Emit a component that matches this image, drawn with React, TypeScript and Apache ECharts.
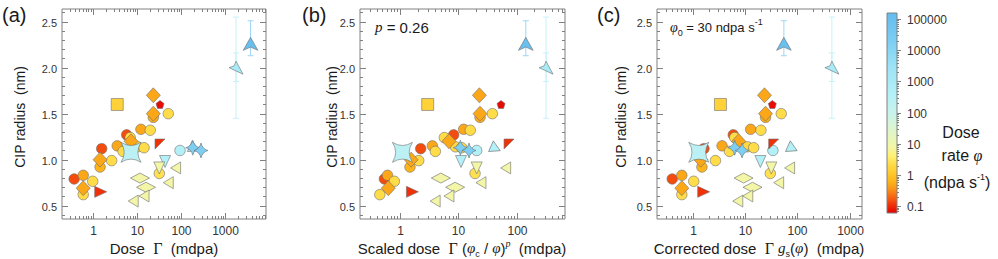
import React, { useEffect, useRef } from 'react';
import * as echarts from 'echarts';

const FONT = '"Liberation Sans", Arial, Helvetica, sans-serif';
const SERIF = '"Liberation Serif", "DejaVu Serif", serif';

// ---------- data ----------
const shapes = [
  'circle', 'circle', 'circle', 'circle', 'diamond', 'right', 'circle', 'circle', 'diamond', 'circle',
  'circle', 'circle', 'circle', 'circle', 'circle', 'circle', 'diamond', 'circle', 'circle', 'square',
  'circle', 'diamond', 'diamond', 'pent', 'circle', 'flag', 'circle', 'star', 'star', 'tilt',
  'down', 'down', 'circle', 'left', 'left', 'wide', 'wide', 'left', 'left', 'big',
  'bow', 'arrow',
];
// log10 of dose rate (ndpa/s)
const logRate = [
  -0.82, -0.3, 0.35, 0.35, -0.3, -0.95, -0.82, -0.2, -0.3, 0.35,
  -0.3, 0.35, 0.3, 0.35, -0.82, 0.35, -0.3, -0.3, 0.35, 0.2,
  -0.25, -0.3, -0.3, -1.15, 0.35, -0.95, 2.6, 4.3, 4.3, 2.6,
  2.6, 0.9, 0.4, 0.9, 0.9, 0.9, 0.9, 0.9, 0.9, 2.4,
  3.0, 5.0,
];
// CIP radius (nm)
const radius = [
  0.79, 0.83, 0.765, 0.62, 0.69, 0.65, 1.12, 0.92, 1.0, 0.99,
  1.15, 1.09, 1.14, 1.13, 1.27, 1.24, 1.2, 1.33, 1.32, 1.6,
  1.46, 1.5, 1.7, 1.6, 1.5, 1.17, 1.1, 1.13, 1.1, 1.12,
  0.98, 0.91, 0.85, 0.91, 0.75, 0.8, 0.7, 0.55, 0.605, 1.08,
  2.0, 2.33,
];
// (a) dose (mdpa)
const doseA = [
  0.38, 0.61, 1.0, 0.61, 0.61, 1.52, 1.6, 1.47, 1.47, 2.69,
  3.6, 4.9, 10.5, 14.6, 5.9, 7.1, 7.4, 12.4, 20.2, 3.6,
  23.7, 23.7, 23.7, 33.6, 51.8, 33.6, 95.5, 186, 286, 174,
  43.7, 32.4, 32.4, 75.9, 51.8, 11.8, 16.2, 8.3, 14.6, 7.4,
  1780, 3800,
];
// (b) scaled dose (mdpa)
const doseB = [
  0.54, 0.61, 0.8, 0.45, 0.63, 1.63, 2.26, 1.48, 1.55, 2.09,
  3.58, 4.03, 8.9, 11.4, 8.3, 5.75, 6.9, 12.3, 16.0, 2.98,
  23.5, 23.5, 22.9, 53.8, 38.2, 73.8, 20.6, 10.8, 15.2, 38.7,
  11.1, 20.6, 19.3, 64.6, 24.4, 5.0, 8.8, 4.0, 6.9, 1.1,
  318, 143,
];
// (c) corrected dose (mdpa)
const doseC = [
  0.4, 0.61, 1.03, 0.61, 0.61, 1.6, 1.62, 1.48, 1.41, 2.69,
  3.6, 5.0, 11.0, 14.5, 5.9, 6.3, 7.5, 12.7, 20.0, 3.35,
  24.5, 24.5, 23.4, 33.1, 49, 35.1, 33.9, 6.3, 8.7, 70.8,
  19.5, 31.6, 30.2, 70.8, 43.7, 9.3, 13.8, 7.2, 11.2, 1.29,
  457, 55,
];
// error bars: point index, low, high (nm)
const errPoint = [40, 40, 41];
const errLow = [1.45, 1.85, 2.13];
const errHigh = [2.55, 2.16, 2.51];

// tick labels
const xLabelsA = ['1', '10', '100', '1000'];
const xLabelsB = ['1', '10', '100'];
const xLabelsC = ['1', '10', '100', '1000'];
const yLabels = ['0.5', '1.0', '1.5', '2.0', '2.5'];
const cbLabels = ['0.1', '1', '10', '100', '1000', '10000', '100000'];

// ---------- colour scale ----------
const CB_MIN = -1.21;
const CB_MAX = 5.19;
const colorStops: [number, string][] = [
  [-1.21, '#e60000'],
  [-0.9, '#f23a0a'],
  [-0.75, '#f65c12'],
  [-0.4, '#fa9a18'],
  [-0.2, '#fcb418'],
  [0.1, '#ffcc30'],
  [0.35, '#ffdc48'],
  [0.6, '#fff070'],
  [0.9, '#f2f6a6'],
  [1.5, '#dcf5d0'],
  [2.0, '#c8f3ec'],
  [2.6, '#b4f0f8'],
  [3.5, '#9ce2f6'],
  [4.3, '#7ccef3'],
  [5.19, '#62bcee'],
];
function hexToRgb(h: string) {
  const n = parseInt(h.slice(1), 16);
  return [(n >> 16) & 255, (n >> 8) & 255, n & 255];
}
function rateColor(l: number, mixWhite = 0) {
  let c0 = colorStops[0], c1 = colorStops[colorStops.length - 1];
  if (l <= colorStops[0][0]) c1 = c0;
  else if (l >= c1[0]) c0 = c1;
  else {
    for (let i = 0; i < colorStops.length - 1; i++) {
      if (l >= colorStops[i][0] && l <= colorStops[i + 1][0]) { c0 = colorStops[i]; c1 = colorStops[i + 1]; break; }
    }
  }
  const t = c1[0] === c0[0] ? 0 : (l - c0[0]) / (c1[0] - c0[0]);
  const a = hexToRgb(c0[1]), b = hexToRgb(c1[1]);
  const rgb = a.map((v, i) => {
    const c = v + (b[i] - v) * t;
    return Math.round(c + (255 - c) * mixWhite);
  });
  return `rgb(${rgb[0]},${rgb[1]},${rgb[2]})`;
}

// ---------- symbols ----------
const SYM: Record<string, { symbol: string; size: number | number[]; rotate?: number; layer: number }> = {
  circle: { symbol: 'circle', size: 10.5, layer: 0 },
  square: { symbol: 'rect', size: 12, layer: 1 },
  diamond: { symbol: 'diamond', size: [14, 15], layer: 2 },
  wide: { symbol: 'diamond', size: [19, 10], layer: 2 },
  left: { symbol: 'path://M10,0L10,10L0,5Z', size: [10, 12], layer: 3 },
  right: { symbol: 'path://M0,0L10,5L0,10Z', size: [12, 11], layer: 3 },
  down: { symbol: 'path://M0,0L10,0L5,10Z', size: [11, 12], layer: 3 },
  flag: { symbol: 'path://M0,0L10,0L0,10Z', size: [10, 10], layer: 3 },
  pent: { symbol: 'path://M5,0L10,3.6L8.1,9.5L1.9,9.5L0,3.6Z', size: 8, layer: 3 },
  tilt: { symbol: 'path://M10,0L10,10L0,5Z', size: [10, 12], rotate: 35, layer: 3 },
  star: { symbol: 'path://M5,0Q6,4 10,5Q6,6 5,10Q4,6 0,5Q4,4 5,0Z', size: [14, 15], layer: 4 },
  arrow: { symbol: 'arrow', size: [11, 13], layer: 4 },
  bow: { symbol: 'path://M10,10L0,5L3.6,3.6L5,0Z', size: [14, 13], layer: 4 },
  big: { symbol: 'path://M0,0Q5,3.2 10,0Q6.8,5 10,10Q5,6.8 0,10Q3.2,5 0,0Z', size: 20, layer: 5 },
};

// ---------- layout ----------
const Y_RANGE = [0.355, 2.638];
const panels = [
  { dose: doseA, labels: xLabelsA, xr: [-0.696, 3.93], left: 62, width: 204 },
  { dose: doseB, labels: xLabelsB, xr: [-0.686, 2.827], left: 360, width: 205 },
  { dose: doseC, labels: xLabelsC, xr: [-0.69, 3.237], left: 657, width: 205 },
];
const TICK = '#808080';
const LABEL = '#333';

function decadeTicks(min: number, max: number, labels: string[]) {
  const out: number[][] = [];
  for (let n = Math.floor(min); n <= Math.ceil(max); n++) {
    for (let k = 1; k <= 9; k++) {
      const v = n + Math.log10(k);
      if (v < min - 1e-9 || v > max + 1e-9) continue;
      if (k === 1) {
        const li = labels.findIndex((l) => Math.abs(Math.log10(parseFloat(l)) - v) < 1e-6);
        out.push([v, 1, li]);
      } else out.push([v, 0, -1]);
    }
  }
  return out;
}

function buildOption() {
  const grid: any[] = [];
  const xAxis: any[] = [];
  const yAxis: any[] = [];
  const series: any[] = [];

  panels.forEach((p, pi) => {
    grid.push({ left: p.left, top: 9, width: p.width, height: 210, show: true, borderColor: TICK, borderWidth: 1, backgroundColor: 'transparent' });
    xAxis.push({ gridIndex: pi, type: 'value', min: p.xr[0], max: p.xr[1], show: false });
    yAxis.push({ gridIndex: pi, type: 'value', min: Y_RANGE[0], max: Y_RANGE[1], show: false });

    // error bars
    series.push({
      type: 'custom', xAxisIndex: pi, yAxisIndex: pi, silent: true, clip: false, z: 2,
      data: errPoint.map((pt, j) => [Math.log10(p.dose[pt]), errLow[j], errHigh[j], pt]),
      renderItem: (params: any, api: any) => {
        const x = api.value(0), lo = api.value(1), hi = api.value(2), pt = api.value(3);
        const a = api.coord([x, lo]), b = api.coord([x, hi]);
        const style = { stroke: rateColor(logRate[pt], 0.35), lineWidth: 1 };
        const w = 3;
        return {
          type: 'group',
          children: [
            { type: 'line', shape: { x1: a[0], y1: a[1], x2: b[0], y2: b[1] }, style },
            { type: 'line', shape: { x1: a[0] - w, y1: a[1], x2: a[0] + w, y2: a[1] }, style },
            { type: 'line', shape: { x1: b[0] - w, y1: b[1], x2: b[0] + w, y2: b[1] }, style },
          ],
        };
      },
    });

    // markers
    const order = shapes.map((_, i) => i).sort((a, b) => SYM[shapes[a]].layer - SYM[shapes[b]].layer || a - b);
    series.push({
      type: 'scatter', xAxisIndex: pi, yAxisIndex: pi, silent: true, z: 3,
      data: order.map((i) => {
        const s = SYM[shapes[i]];
        return {
          value: [Math.log10(p.dose[i]), radius[i]],
          symbol: s.symbol,
          symbolSize: s.size,
          symbolRotate: s.rotate || 0,
          itemStyle: { color: rateColor(logRate[i]), borderColor: '#6e6e6e', borderWidth: 0.6, opacity: 1 },
        };
      }),
    });

    // x ticks + labels
    series.push({
      type: 'custom', xAxisIndex: pi, yAxisIndex: pi, silent: true, clip: false, z: 5,
      data: decadeTicks(p.xr[0], p.xr[1], p.labels),
      renderItem: (params: any, api: any) => {
        const cs = params.coordSys;
        const v = api.value(0), major = api.value(1) === 1, li = api.value(2);
        const x = Math.round(api.coord([v, 1])[0]) + 0.5;
        const len = major ? 6 : 3;
        const bottom = cs.y + cs.height, top = cs.y;
        const st = { stroke: TICK, lineWidth: 1 };
        const children: any[] = [
          { type: 'line', shape: { x1: x, y1: bottom, x2: x, y2: bottom - len }, style: st },
          { type: 'line', shape: { x1: x, y1: top, x2: x, y2: top + len }, style: st },
        ];
        if (major && li >= 0) {
          children.push({ type: 'text', style: { text: p.labels[li], x, y: bottom + 12, align: 'center', verticalAlign: 'middle', fontSize: 12, fontFamily: FONT, fill: LABEL } });
        }
        return { type: 'group', children };
      },
    });

    // y ticks + labels
    const yt: number[][] = [];
    for (let i = 4; i <= 26; i++) {
      const v = i / 10;
      const major = i % 5 === 0 ? 1 : 0;
      yt.push([p.xr[0], v, major ? yLabels.indexOf(v.toFixed(1)) : -1, major]);
    }
    series.push({
      type: 'custom', xAxisIndex: pi, yAxisIndex: pi, silent: true, clip: false, z: 5,
      data: yt,
      renderItem: (params: any, api: any) => {
        const cs = params.coordSys;
        const v = api.value(1), li = api.value(2), major = api.value(3) === 1;
        const y = Math.round(api.coord([p.xr[0], v])[1]) + 0.5;
        const len = major ? 6 : 3;
        const l = cs.x, r = cs.x + cs.width;
        const st = { stroke: TICK, lineWidth: 1 };
        const children: any[] = [
          { type: 'line', shape: { x1: l, y1: y, x2: l + len, y2: y }, style: st },
          { type: 'line', shape: { x1: r, y1: y, x2: r - len, y2: y }, style: st },
        ];
        if (major && li >= 0) {
          children.push({ type: 'text', style: { text: yLabels[li], x: l - 5, y, align: 'right', verticalAlign: 'middle', fontSize: 11, fontFamily: FONT, fill: LABEL } });
        }
        return { type: 'group', children };
      },
    });
  });

  // colour bar
  grid.push({ left: 887, top: 13, width: 10, height: 200, show: false });
  xAxis.push({ gridIndex: 3, type: 'value', min: 0, max: 1, show: false });
  yAxis.push({ gridIndex: 3, type: 'value', min: CB_MIN, max: CB_MAX, show: false });
  series.push({
    type: 'custom', xAxisIndex: 3, yAxisIndex: 3, silent: true, clip: false, z: 2,
    data: [[0.5, 0]],
    renderItem: (params: any, api: any) => {
      const b = api.coord([0, CB_MIN]), t = api.coord([1, CB_MAX]);
      const stops = colorStops.map(([v, c]) => ({ offset: (v - CB_MIN) / (CB_MAX - CB_MIN), color: c }));
      return {
        type: 'rect',
        shape: { x: b[0], y: t[1], width: t[0] - b[0], height: b[1] - t[1] },
        style: { fill: new echarts.graphic.LinearGradient(0, 1, 0, 0, stops), stroke: TICK, lineWidth: 1 },
      };
    },
  });
  series.push({
    type: 'custom', xAxisIndex: 3, yAxisIndex: 3, silent: true, clip: false, z: 5,
    data: decadeTicks(CB_MIN, CB_MAX, cbLabels).map((d) => [1, d[0], d[2], d[1]]),
    renderItem: (params: any, api: any) => {
      const v = api.value(1), li = api.value(2), major = api.value(3) === 1;
      const pt = api.coord([1, v]);
      const y = Math.round(pt[1]) + 0.5;
      const x = pt[0];
      const len = major ? 4 : 2;
      const children: any[] = [
        { type: 'line', shape: { x1: x, y1: y, x2: x + len, y2: y }, style: { stroke: TICK, lineWidth: 1 } },
      ];
      if (major && li >= 0) {
        children.push({ type: 'text', style: { text: cbLabels[li], x: x + 10, y, align: 'left', verticalAlign: 'middle', fontSize: 12, fontFamily: FONT, fill: LABEL } });
      }
      return { type: 'group', children };
    },
  });

  const txt = (x: number, y: number, text: string, extra: any = {}) => ({
    type: 'text', x, y, silent: true,
    style: { text, fontSize: 15, fontFamily: FONT, fill: '#1a1a1a', align: 'center', verticalAlign: 'middle', ...extra },
  });
  const rich = {
    g: { fontFamily: SERIF, fontSize: 16, fill: '#1a1a1a' },
    i: { fontStyle: 'italic', fontFamily: SERIF, fontSize: 15, fill: '#1a1a1a' },
    sub: { fontSize: 9, fontFamily: FONT, verticalAlign: 'bottom', lineHeight: 10, fill: '#1a1a1a' },
    sup: { fontSize: 9, fontFamily: FONT, verticalAlign: 'top', lineHeight: 10, fill: '#1a1a1a' },
    supi: { fontSize: 10, fontStyle: 'italic', fontFamily: SERIF, verticalAlign: 'top', lineHeight: 10, fill: '#1a1a1a' },
    n: { fontSize: 15, fontFamily: FONT, fill: '#1a1a1a', lineHeight: 20 },
  };

  const graphic = [
    txt(2, 15, '(a)', { fontSize: 20, align: 'left' }),
    txt(302, 15, '(b)', { fontSize: 20, align: 'left' }),
    txt(597, 15, '(c)', { fontSize: 20, align: 'left' }),
    { ...txt(20, 117, 'CIP radius  (nm)', { fontSize: 14 }), rotation: Math.PI / 2 },
    { ...txt(332, 117, 'CIP radius  (nm)', { fontSize: 14 }), rotation: Math.PI / 2 },
    { ...txt(621, 117, 'CIP radius  (nm)', { fontSize: 14 }), rotation: Math.PI / 2 },
    txt(164, 248, '{n|Dose  }{g|Γ}{n|  (mdpa)}', { rich }),
    txt(462, 248, '{n|Scaled dose  }{g|Γ}{n| (}{i|φ}{sub|c}{n| / }{i|φ}{n|)}{supi|p}{n|  (mdpa)}', { rich }),
    txt(759, 248, '{n|Corrected dose  }{g|Γ}{n| }{i|g}{sub|s}{n|(}{i|φ}{n|)  (mdpa)}', { rich }),
    txt(375, 27, '{i|p}{n| = 0.26}', { rich: { ...rich, n: { ...rich.n, fontSize: 15 } }, align: 'left' }),
    txt(670, 27, '{i|φ}{sub|0}{n| = 30 ndpa s}{sup|-1}', { rich: { ...rich, n: { ...rich.n, fontSize: 13 }, i: { ...rich.i, fontSize: 14 } }, align: 'left' }),
    txt(961, 132, 'Dose', { fontSize: 16 }),
    txt(962, 155, '{n|rate }{i|φ}', { rich: { ...rich, n: { ...rich.n, fontSize: 16 }, i: { ...rich.i, fontSize: 16 } } }),
    txt(957, 182, '{n|(ndpa s}{sup|-1}{n|)}', { rich: { ...rich, n: { ...rich.n, fontSize: 16 } } }),
  ];

  return { animation: false, backgroundColor: '#ffffff', grid, xAxis, yAxis, series, graphic };
}

export default function App() {
  const ref = useRef<HTMLDivElement>(null);
  useEffect(() => {
    if (!ref.current) return;
    const chart = echarts.init(ref.current, null, { renderer: 'svg' });
    chart.setOption(buildOption() as any);
    return () => chart.dispose();
  }, []);
  return <div ref={ref} style={{ position: 'fixed', left: 0, top: 0, width: 998, height: 259 }} />;
}
